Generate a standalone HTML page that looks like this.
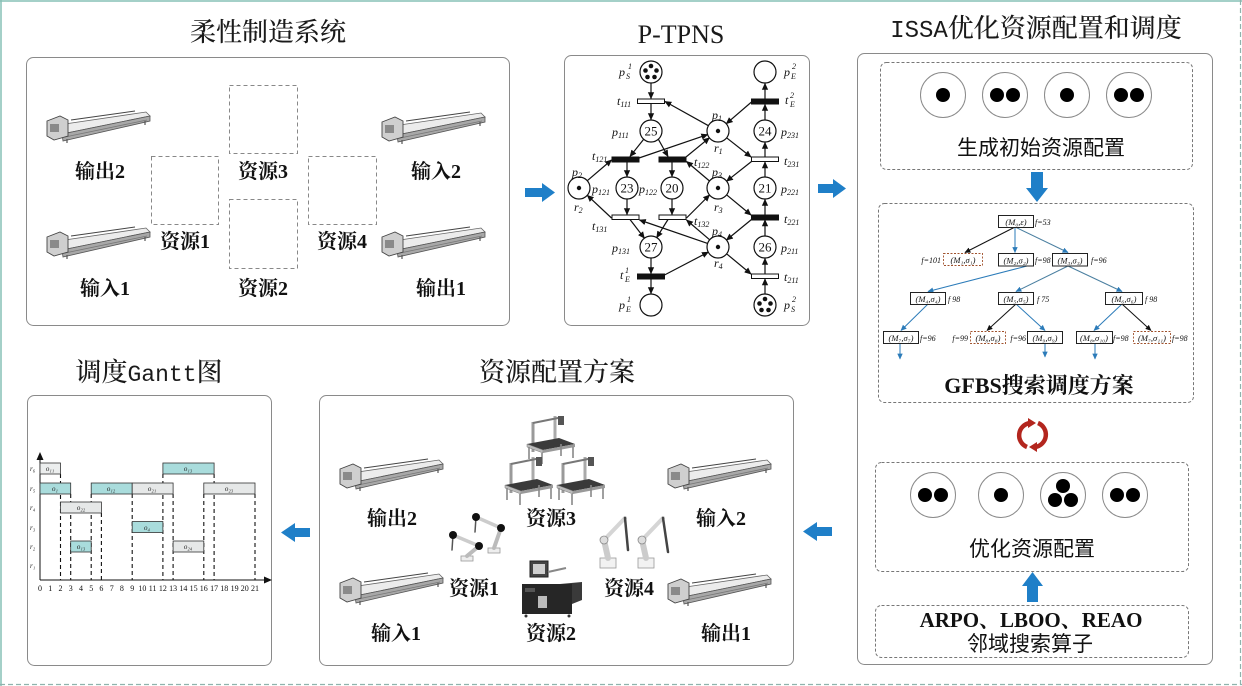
<!DOCTYPE html>
<html><head><meta charset="utf-8">
<style>
html,body{margin:0;padding:0;background:#fff;}
svg{display:block;}
.ttl{font-family:"Liberation Serif","Noto Serif CJK SC",serif;font-size:26px;fill:#1a1a1a;font-weight:500;}
.mono{font-family:"Liberation Mono",monospace;}
.lb{font-family:"Liberation Serif","Noto Serif CJK SC",serif;font-size:20px;font-weight:bold;fill:#111;}
.pn{font-family:"Liberation Serif",serif;font-style:italic;font-size:12px;fill:#111;}
.sb{font-size:8px;}
.num{font-family:"Liberation Serif",serif;font-size:13px;fill:#111;}
.hs{font-family:"Liberation Sans","Noto Sans CJK SC",sans-serif;font-size:21px;fill:#111;}
.tr{font-family:"Liberation Serif",serif;font-style:italic;font-size:8.5px;fill:#111;}
.tf{font-family:"Liberation Serif",serif;font-style:italic;font-size:8px;fill:#111;}
.gl{font-family:"Liberation Serif",serif;font-style:italic;font-size:7px;fill:#222;}
.gt{font-family:"Liberation Serif",serif;font-size:8px;fill:#111;}
</style></head><body>
<svg width="1242" height="686" viewBox="0 0 1242 686" xmlns="http://www.w3.org/2000/svg">
<defs>
<marker id="ah" viewBox="0 0 10 10" refX="9" refY="5" markerUnits="userSpaceOnUse" markerWidth="7" markerHeight="7" orient="auto"><path d="M0,0.5 L10,5 L0,9.5 z" fill="#111"/></marker>
<marker id="ab" viewBox="0 0 10 10" refX="9" refY="5" markerUnits="userSpaceOnUse" markerWidth="6" markerHeight="6" orient="auto"><path d="M0,0.5 L10,5 L0,9.5 z" fill="#2b7bb9"/></marker>
<marker id="ak" viewBox="0 0 10 10" refX="9" refY="5" markerUnits="userSpaceOnUse" markerWidth="6" markerHeight="6" orient="auto"><path d="M0,0.5 L10,5 L0,9.5 z" fill="#111"/></marker>
<g id="conv">
 <polygon points="11,14 99,1 103,5 15,23" fill="#ececec" stroke="#666" stroke-width="0.8"/>
 <polygon points="15,23 103,5 103,10 16,30" fill="#a8a8a8" stroke="#555" stroke-width="0.8"/>
 <line x1="24" y1="9" x2="88" y2="0" stroke="#444" stroke-width="1"/>
 <line x1="18" y1="26" x2="100" y2="9" stroke="#777" stroke-width="0.8"/>
 <polygon points="0,10 13,5 21,9 21,25 7,29 0,25" fill="#cfcfcf" stroke="#444" stroke-width="0.9"/>
 <rect x="3" y="13" width="9" height="8" fill="#8a8a8a"/>
 <line x1="20" y1="28" x2="20" y2="32" stroke="#555" stroke-width="1.2"/>
 <line x1="98" y1="10" x2="98" y2="14" stroke="#555" stroke-width="1.2"/>
</g>
<g id="gan">
 <line x1="8" y1="8" x2="8" y2="38" stroke="#9a9a9a" stroke-width="3"/>
 <line x1="30" y1="2" x2="30" y2="28" stroke="#aaa" stroke-width="3"/>
 <line x1="8" y1="9" x2="38" y2="3" stroke="#777" stroke-width="2"/>
 <rect x="33" y="2" width="6" height="9" fill="#555"/>
 <polygon points="2,30 34,24 50,30 18,36" fill="#3a3a3a"/>
 <polygon points="2,30 18,36 18,39 2,33" fill="#bbb" stroke="#777" stroke-width="0.5"/>
 <polygon points="18,36 50,30 50,33 18,39" fill="#999"/>
 <line x1="4" y1="33" x2="4" y2="45" stroke="#888" stroke-width="1.6"/>
 <line x1="17" y1="39" x2="17" y2="50" stroke="#888" stroke-width="1.6"/>
 <line x1="48" y1="33" x2="48" y2="44" stroke="#888" stroke-width="1.6"/>
 <line x1="36" y1="30" x2="36" y2="42" stroke="#888" stroke-width="1.6"/>
</g>
</defs>

<!-- outer frame -->
<line x1="0" y1="1" x2="1242" y2="1" stroke="#86c0b6" stroke-width="1.5"/>
<line x1="1" y1="0" x2="1" y2="686" stroke="#86c0b6" stroke-width="1.5"/>
<line x1="0" y1="684.5" x2="1242" y2="684.5" stroke="#8fb3ad" stroke-width="1.2" stroke-dasharray="5 3"/>
<line x1="1240.5" y1="0" x2="1240.5" y2="686" stroke="#8fb3ad" stroke-width="1.2" stroke-dasharray="5 3"/>

<!-- titles -->
<text class="ttl" x="268" y="41" text-anchor="middle">柔性制造系统</text>
<text class="ttl" x="681" y="43" text-anchor="middle">P-TPNS</text>
<text class="ttl" x="1036" y="37" text-anchor="middle"><tspan class="mono" style="font-size:24px">ISSA</tspan>优化资源配置和调度</text>
<text class="ttl" x="149" y="381" text-anchor="middle">调度<tspan class="mono" style="font-size:23px">Gantt</tspan>图</text>
<text class="ttl" x="557" y="381" text-anchor="middle">资源配置方案</text>

<!-- panels -->
<rect x="26.5" y="57.5" width="483" height="268" rx="7" fill="#fff" stroke="#8a8a8a" stroke-width="1"/>
<rect x="564.5" y="55.5" width="245" height="270" rx="7" fill="#fff" stroke="#8a8a8a" stroke-width="1"/>
<rect x="857.5" y="53.5" width="355" height="611" rx="7" fill="#fff" stroke="#8a8a8a" stroke-width="1"/>
<rect x="27.5" y="395.5" width="244" height="270" rx="7" fill="#fff" stroke="#8a8a8a" stroke-width="1"/>
<rect x="319.5" y="395.5" width="474" height="270" rx="7" fill="#fff" stroke="#8a8a8a" stroke-width="1"/>

<!-- blue arrows -->
<g fill="#1f7fc8">
 <path d="M525,188 H542 V183 L555,192.5 L542,202 V197 H525 Z"/>
 <path d="M818,184 H833 V179 L846,188.5 L833,198 V193 H818 Z"/>
 <path d="M832,527 H817 V522 L803,531.5 L817,541 V536 H832 Z"/>
 <path d="M310,528 H295 V523 L281,532.5 L295,542 V537 H310 Z"/>
 <path d="M1031,172 H1043 V188 H1048 L1037,202 L1026,188 H1031 Z"/>
 <path d="M1027,602 H1038 V586 H1043 L1032.5,572 L1022,586 H1027 Z"/>
</g>

<!-- ===== top-left panel ===== -->
<use href="#conv" x="47" y="111"/>
<use href="#conv" x="47" y="227"/>
<use href="#conv" x="382" y="112"/>
<use href="#conv" x="382" y="227"/>
<g fill="none" stroke="#888" stroke-width="1" stroke-dasharray="4 3">
 <rect x="229.5" y="85.5" width="68" height="68"/>
 <rect x="151.5" y="156.5" width="67" height="68"/>
 <rect x="229.5" y="199.5" width="68" height="69"/>
 <rect x="308.5" y="156.5" width="68" height="68"/>
</g>
<g class="lb" text-anchor="middle">
 <text x="100" y="178">输出2</text>
 <text x="105" y="295">输入1</text>
 <text x="436" y="178">输入2</text>
 <text x="441" y="295">输出1</text>
 <text x="263" y="178">资源3</text>
 <text x="185" y="248">资源1</text>
 <text x="263" y="295">资源2</text>
 <text x="342" y="248">资源4</text>
</g>

<!-- ===== Petri net ===== -->
<g stroke="#111" stroke-width="1.2" marker-end="url(#ah)">
 <line x1="651" y1="83" x2="651" y2="98.5"/>
 <line x1="651" y1="103.5" x2="651" y2="119.5"/>
 <line x1="708.4" y1="125.7" x2="665" y2="101.5"/>
 <line x1="751.5" y1="102" x2="726.3" y2="123.7"/>
 <line x1="765" y1="99" x2="765" y2="83.5"/>
 <line x1="765" y1="120" x2="765" y2="104.5"/>
 <line x1="765" y1="157" x2="765" y2="142.5"/>
 <line x1="765" y1="177" x2="765" y2="162"/>
 <line x1="765" y1="215" x2="765" y2="199.5"/>
 <line x1="765" y1="236" x2="765" y2="220"/>
 <line x1="765" y1="274" x2="765" y2="258.5"/>
 <line x1="765" y1="294" x2="765" y2="279"/>
 <line x1="643.7" y1="139.2" x2="630" y2="156.5"/>
 <line x1="658.3" y1="139.2" x2="668" y2="156.5"/>
 <line x1="639" y1="158" x2="707.6" y2="134.6"/>
 <line x1="686" y1="157" x2="709.4" y2="137.8"/>
 <line x1="587.3" y1="180.7" x2="611.5" y2="160"/>
 <line x1="627" y1="161.5" x2="627" y2="176.5"/>
 <line x1="672" y1="161.5" x2="672" y2="176.5"/>
 <line x1="709.5" y1="181" x2="686.5" y2="161.5"/>
 <line x1="726.6" y1="137.8" x2="751" y2="157"/>
 <line x1="751.5" y1="161.5" x2="726.6" y2="181.2"/>
 <line x1="627" y1="199" x2="627" y2="214.5"/>
 <line x1="672" y1="199" x2="672" y2="214.5"/>
 <line x1="611.5" y1="218" x2="587.3" y2="195.3"/>
 <line x1="686.5" y1="218" x2="709.5" y2="195"/>
 <line x1="707.6" y1="243.4" x2="639.5" y2="220"/>
 <line x1="709.7" y1="239.8" x2="686.5" y2="220"/>
 <line x1="630" y1="219.5" x2="644.4" y2="238.2"/>
 <line x1="668" y1="219.5" x2="656.7" y2="237.6"/>
 <line x1="726.6" y1="194.8" x2="751" y2="215"/>
 <line x1="751.5" y1="219.5" x2="726.5" y2="240"/>
 <line x1="651" y1="258" x2="651" y2="273.5"/>
 <line x1="651" y1="278.5" x2="651" y2="293.5"/>
 <line x1="664.5" y1="275" x2="708.3" y2="252.1"/>
 <line x1="726.6" y1="253.8" x2="751" y2="274"/>
</g>
<g fill="#fff" stroke="#111" stroke-width="1.2">
 <circle cx="651" cy="72" r="11"/>
 <circle cx="651" cy="131" r="11"/>
 <circle cx="718" cy="131" r="11"/>
 <circle cx="765" cy="72" r="11"/>
 <circle cx="765" cy="131" r="11"/>
 <circle cx="579" cy="188" r="11"/>
 <circle cx="627" cy="188" r="11"/>
 <circle cx="672" cy="188" r="11"/>
 <circle cx="718" cy="188" r="11"/>
 <circle cx="765" cy="188" r="11"/>
 <circle cx="651" cy="247" r="11"/>
 <circle cx="718" cy="247" r="11"/>
 <circle cx="765" cy="247" r="11"/>
 <circle cx="651" cy="305" r="11"/>
 <circle cx="765" cy="305" r="11"/>
</g>
<g fill="#111">
 <circle cx="718" cy="131" r="2.2"/>
 <circle cx="579" cy="188" r="2.2"/>
 <circle cx="718" cy="188" r="2.2"/>
 <circle cx="718" cy="247" r="2.2"/>
 <circle cx="651" cy="66" r="2.3"/><circle cx="645.5" cy="70.5" r="2.3"/><circle cx="656.5" cy="70.5" r="2.3"/><circle cx="647.5" cy="77" r="2.3"/><circle cx="654.5" cy="77" r="2.3"/>
 <circle cx="765" cy="299" r="2.3"/><circle cx="759.5" cy="303.5" r="2.3"/><circle cx="770.5" cy="303.5" r="2.3"/><circle cx="761.5" cy="310" r="2.3"/><circle cx="768.5" cy="310" r="2.3"/>
</g>
<g class="num" text-anchor="middle">
 <text x="651" y="135.5">25</text>
 <text x="765" y="135.5">24</text>
 <text x="627" y="192.5">23</text>
 <text x="672" y="192.5">20</text>
 <text x="765" y="192.5">21</text>
 <text x="651" y="251.5">27</text>
 <text x="765" y="251.5">26</text>
</g>
<g stroke="#111" stroke-width="1">
 <rect x="637.5" y="99" width="27" height="4.5" fill="#fff"/>
 <rect x="751.5" y="99" width="27" height="5" fill="#111"/>
 <rect x="612" y="157" width="27" height="5" fill="#111"/>
 <rect x="659" y="157" width="27" height="5" fill="#111"/>
 <rect x="751.5" y="157" width="27" height="4.5" fill="#fff"/>
 <rect x="612" y="215" width="27" height="4.5" fill="#fff"/>
 <rect x="659" y="215" width="27" height="4.5" fill="#fff"/>
 <rect x="751.5" y="215" width="27" height="5" fill="#111"/>
 <rect x="637.5" y="274" width="27" height="5" fill="#111"/>
 <rect x="751.5" y="274" width="27" height="4.5" fill="#fff"/>
</g>
<g class="pn">
 <text x="619" y="76">p</text><text class="sb" x="626" y="79">S</text><text class="sb" x="628" y="69">1</text>
 <text x="617" y="105">t<tspan class="sb" dy="2">111</tspan></text>
 <text x="712" y="119">p<tspan class="sb" dy="2">1</tspan></text>
 <text x="785" y="104">t</text><text class="sb" x="790" y="107">E</text><text class="sb" x="790" y="98">2</text>
 <text x="784" y="76">p</text><text class="sb" x="791" y="79">E</text><text class="sb" x="792" y="69">2</text>
 <text x="612" y="136">p<tspan class="sb" dy="2">111</tspan></text>
 <text x="714" y="152">r<tspan class="sb" dy="2">1</tspan></text>
 <text x="781" y="136">p<tspan class="sb" dy="2">231</tspan></text>
 <text x="592" y="160">t<tspan class="sb" dy="2">121</tspan></text>
 <text x="694" y="166">t<tspan class="sb" dy="2">122</tspan></text>
 <text x="784" y="165">t<tspan class="sb" dy="2">231</tspan></text>
 <text x="572" y="176">p<tspan class="sb" dy="2">2</tspan></text>
 <text x="712" y="176">p<tspan class="sb" dy="2">3</tspan></text>
 <text x="592" y="193">p<tspan class="sb" dy="2">121</tspan></text>
 <text x="639" y="193">p<tspan class="sb" dy="2">122</tspan></text>
 <text x="781" y="193">p<tspan class="sb" dy="2">221</tspan></text>
 <text x="574" y="211">r<tspan class="sb" dy="2">2</tspan></text>
 <text x="714" y="211">r<tspan class="sb" dy="2">3</tspan></text>
 <text x="592" y="230">t<tspan class="sb" dy="2">131</tspan></text>
 <text x="694" y="225">t<tspan class="sb" dy="2">132</tspan></text>
 <text x="784" y="223">t<tspan class="sb" dy="2">221</tspan></text>
 <text x="712" y="235">p<tspan class="sb" dy="2">4</tspan></text>
 <text x="612" y="252">p<tspan class="sb" dy="2">131</tspan></text>
 <text x="781" y="252">p<tspan class="sb" dy="2">211</tspan></text>
 <text x="714" y="267">r<tspan class="sb" dy="2">4</tspan></text>
 <text x="620" y="279">t</text><text class="sb" x="625" y="282">E</text><text class="sb" x="625" y="273">1</text>
 <text x="784" y="281">t<tspan class="sb" dy="2">211</tspan></text>
 <text x="619" y="309">p</text><text class="sb" x="626" y="312">E</text><text class="sb" x="627" y="302">1</text>
 <text x="784" y="309">p</text><text class="sb" x="791" y="312">S</text><text class="sb" x="792" y="302">2</text>
</g>

<!-- ===== Right panel ===== -->
<g fill="none" stroke="#777" stroke-width="1" stroke-dasharray="3 2">
 <rect x="880.5" y="62.5" width="312" height="107" rx="6"/>
 <rect x="878.5" y="203.5" width="315" height="199" rx="6"/>
 <rect x="875.5" y="462.5" width="313" height="109" rx="6"/>
 <rect x="875.5" y="605.5" width="313" height="52" rx="6"/>
</g>
<g fill="#fff" stroke="#8a8a8a" stroke-width="1">
 <circle cx="943" cy="95" r="22.5"/><circle cx="1005" cy="95" r="22.5"/><circle cx="1067" cy="95" r="22.5"/><circle cx="1129" cy="95" r="22.5"/>
 <circle cx="933" cy="495" r="22.5"/><circle cx="1001" cy="495" r="22.5"/><circle cx="1063" cy="495" r="22.5"/><circle cx="1125" cy="495" r="22.5"/>
</g>
<g fill="#000">
 <circle cx="943" cy="95" r="7"/>
 <circle cx="997" cy="95" r="7"/><circle cx="1013" cy="95" r="7"/>
 <circle cx="1067" cy="95" r="7"/>
 <circle cx="1121" cy="95" r="7"/><circle cx="1137" cy="95" r="7"/>
 <circle cx="925" cy="495" r="7"/><circle cx="941" cy="495" r="7"/>
 <circle cx="1001" cy="495" r="7"/>
 <circle cx="1063" cy="486" r="7"/><circle cx="1055" cy="500" r="7"/><circle cx="1071" cy="500" r="7"/>
 <circle cx="1117" cy="495" r="7"/><circle cx="1133" cy="495" r="7"/>
</g>
<text class="hs" x="1041" y="155" text-anchor="middle">生成初始资源配置</text>
<text class="hs" x="1032" y="556" text-anchor="middle">优化资源配置</text>
<text class="lb" x="1031" y="627" text-anchor="middle" style="font-size:21px">ARPO、LBOO、REAO</text>
<text class="hs" x="1030" y="651" text-anchor="middle">邻域搜索算子</text>
<text class="lb" x="1039" y="393" text-anchor="middle" style="font-size:22px">GFBS搜索调度方案</text>

<!-- tree edges -->
<g stroke-width="1" fill="none">
 <line x1="1015" y1="227" x2="965" y2="252.5" stroke="#111" marker-end="url(#ak)"/>
 <line x1="1015" y1="227" x2="1015" y2="252.5" stroke="#2b7bb9" marker-end="url(#ab)"/>
 <line x1="1015" y1="227" x2="1068" y2="252.5" stroke="#4a7fa0" marker-end="url(#ab)"/>
 <line x1="1027" y1="266" x2="928" y2="291.5" stroke="#2b7bb9" marker-end="url(#ab)"/>
 <line x1="1068" y1="266" x2="1016" y2="291.5" stroke="#4a7fa0" marker-end="url(#ab)"/>
 <line x1="1068" y1="266" x2="1122" y2="291.5" stroke="#4a7fa0" marker-end="url(#ab)"/>
 <line x1="928" y1="304" x2="901" y2="330.5" stroke="#2b7bb9" marker-end="url(#ab)"/>
 <line x1="1016" y1="304" x2="987" y2="330.5" stroke="#111" marker-end="url(#ak)"/>
 <line x1="1016" y1="304" x2="1045" y2="330.5" stroke="#2b7bb9" marker-end="url(#ab)"/>
 <line x1="1122" y1="304" x2="1094" y2="330.5" stroke="#2b7bb9" marker-end="url(#ab)"/>
 <line x1="1122" y1="304" x2="1151" y2="330.5" stroke="#111" marker-end="url(#ak)"/>
 <line x1="900" y1="343" x2="900" y2="359" stroke="#2b7bb9" marker-end="url(#ab)"/>
 <line x1="1045" y1="343" x2="1045" y2="357" stroke="#2b7bb9" marker-end="url(#ab)"/>
 <line x1="1095" y1="343" x2="1095" y2="359" stroke="#2b7bb9" marker-end="url(#ab)"/>
</g>
<g fill="#fff" stroke="#222" stroke-width="1">
 <rect x="998.5" y="215.5" width="35" height="12"/>
 <rect x="998.5" y="253.5" width="35" height="12.5"/>
 <rect x="1052.5" y="253.5" width="35" height="12.5"/>
 <rect x="910.5" y="292.5" width="35" height="12"/>
 <rect x="998.5" y="292.5" width="35" height="12"/>
 <rect x="1105.5" y="292.5" width="37" height="12"/>
 <rect x="883.5" y="331.5" width="35" height="12"/>
 <rect x="1027.5" y="331.5" width="35" height="12"/>
 <rect x="1076.5" y="331.5" width="36" height="12"/>
</g>
<g fill="#fff" stroke="#a0522d" stroke-width="0.9" stroke-dasharray="2 1.5">
 <rect x="943.5" y="253.5" width="39" height="12"/>
 <rect x="970.5" y="331.5" width="35" height="12"/>
 <rect x="1133.5" y="331.5" width="37" height="12"/>
</g>
<g class="tr" text-anchor="middle">
 <text x="1016" y="225">(M₀,ε)</text>
 <text x="963" y="263">(M₁,σ₁)</text>
 <text x="1016" y="263.5">(M₂,σ₂)</text>
 <text x="1070" y="263.5">(M₃,σ₃)</text>
 <text x="928" y="302">(M₄,σ₄)</text>
 <text x="1016" y="302">(M₅,σ₅)</text>
 <text x="1124" y="302">(M₆,σ₆)</text>
 <text x="901" y="341">(M₇,σ₇)</text>
 <text x="988" y="341">(M₈,σ₈)</text>
 <text x="1045" y="341">(M₉,σ₉)</text>
 <text x="1094" y="341">(M₈,σ₁₀)</text>
 <text x="1152" y="341">(M₇,σ₁₁)</text>
</g>
<g class="tf">
 <text x="1035" y="225">f=53</text>
 <text x="941" y="263" text-anchor="end">f=101</text>
 <text x="1035" y="263">f=98</text>
 <text x="1091" y="263">f=96</text>
 <text x="948" y="302">f  98</text>
 <text x="1037" y="302">f  75</text>
 <text x="1145" y="302">f  98</text>
 <text x="920" y="341">f=96</text>
 <text x="968" y="341" text-anchor="end">f=99</text>
 <text x="1026" y="341" text-anchor="end">f=96</text>
 <text x="1113" y="341">f=98</text>
 <text x="1172" y="341">f=98</text>
</g>

<!-- red cycle -->
<g fill="none" stroke="#b3261e" stroke-width="4.5" stroke-linecap="butt">
 <path d="M1030,423 A12.5,12.5 0 0 0 1027,447"/>
 <path d="M1035,447 A12.5,12.5 0 0 0 1038,423"/>
</g>
<g fill="#b3261e">
 <path d="M1028,418 L1036,423 L1028,428 Z"/>
 <path d="M1037,442 L1029,447 L1037,452 Z"/>
</g>

<!-- ===== Gantt ===== -->
<g stroke="#111" stroke-width="1" fill="none">
 <line x1="40" y1="580" x2="40" y2="458"/>
 <line x1="40" y1="580" x2="266" y2="580"/>
</g>
<path d="M40,452 L36.5,460 L43.5,460 Z" fill="#111"/>
<path d="M272,580 L264,576.5 L264,583.5 Z" fill="#111"/>
<g stroke="#111" stroke-width="1.1" stroke-dasharray="4 3">
 <line x1="60.5" y1="474" x2="60.5" y2="580"/>
 <line x1="70.7" y1="494" x2="70.7" y2="580"/>
 <line x1="91.2" y1="494" x2="91.2" y2="580"/>
 <line x1="101.4" y1="513" x2="101.4" y2="580"/>
 <line x1="132.2" y1="494" x2="132.2" y2="580"/>
 <line x1="162.9" y1="474" x2="162.9" y2="580"/>
 <line x1="173.1" y1="494" x2="173.1" y2="580"/>
 <line x1="203.8" y1="494" x2="203.8" y2="580"/>
 <line x1="214.1" y1="474" x2="214.1" y2="580"/>
 <line x1="255" y1="494" x2="255" y2="580"/>
</g>
<g stroke="#333" stroke-width="0.8">
 <rect x="40" y="463" width="20.5" height="11" fill="#eceeee"/>
 <rect x="162.9" y="463" width="51.2" height="11" fill="#a9dcdc"/>
 <rect x="40" y="483" width="30.7" height="11" fill="#a9dcdc"/>
 <rect x="91.2" y="483" width="41" height="11" fill="#a9dcdc"/>
 <rect x="132.2" y="483" width="40.9" height="11" fill="#e6e8e8"/>
 <rect x="203.8" y="483" width="51.2" height="11" fill="#e6e8e8"/>
 <rect x="60.5" y="502" width="40.9" height="11" fill="#e6e8e8"/>
 <rect x="132.2" y="521.5" width="30.7" height="11" fill="#a9dcdc"/>
 <rect x="70.7" y="541" width="20.5" height="11" fill="#a9dcdc"/>
 <rect x="173.1" y="541" width="30.7" height="11" fill="#e6e8e8"/>
</g>
<g class="gl" text-anchor="middle">
 <text x="50" y="471">o₁₁</text>
 <text x="188" y="471">o₁₃</text>
 <text x="55" y="491">o₁</text>
 <text x="111" y="491">o₁₂</text>
 <text x="152" y="491">o₂₁</text>
 <text x="229" y="491">o₂₃</text>
 <text x="81" y="510">o₂₂</text>
 <text x="147" y="530">o₄</text>
 <text x="81" y="549">o₁₃</text>
 <text x="188" y="549">o₂₄</text>
</g>
<g class="gl">
 <text x="30" y="471">r₆</text>
 <text x="30" y="491">r₅</text>
 <text x="30" y="510">r₄</text>
 <text x="30" y="530">r₃</text>
 <text x="30" y="549">r₂</text>
 <text x="30" y="568">r₁</text>
</g>
<g class="gt" text-anchor="middle">
 <text x="40" y="591">0</text><text x="50.2" y="591">1</text><text x="60.5" y="591">2</text><text x="70.7" y="591">3</text><text x="81" y="591">4</text><text x="91.2" y="591">5</text><text x="101.4" y="591">6</text><text x="111.7" y="591">7</text><text x="121.9" y="591">8</text><text x="132.2" y="591">9</text><text x="142.4" y="591">10</text><text x="152.6" y="591">11</text><text x="162.9" y="591">12</text><text x="173.1" y="591">13</text><text x="183.4" y="591">14</text><text x="193.6" y="591">15</text><text x="203.8" y="591">16</text><text x="214.1" y="591">17</text><text x="224.3" y="591">18</text><text x="234.6" y="591">19</text><text x="244.8" y="591">20</text><text x="255" y="591">21</text>
</g>

<!-- ===== bottom middle panel ===== -->
<use href="#conv" x="340" y="459"/>
<use href="#conv" x="340" y="573"/>
<use href="#conv" x="668" y="459"/>
<use href="#conv" x="668" y="574"/>
<use href="#gan" x="525" y="414"/>
<use href="#gan" x="503" y="455"/>
<use href="#gan" x="555" y="455"/>
<!-- robots resource 1 -->
<g stroke-linecap="round">
 <rect x="461" y="556" width="12" height="5" fill="#eee" stroke="#999" stroke-width="0.8"/>
 <line x1="467" y1="556" x2="479" y2="546" stroke="#bbb" stroke-width="4"/>
 <line x1="479" y1="546" x2="453" y2="535" stroke="#ccc" stroke-width="3.5"/>
 <line x1="453" y1="535" x2="452" y2="550" stroke="#555" stroke-width="1.5"/>
 <circle cx="479" cy="546" r="4" fill="#111"/>
 <circle cx="453" cy="535" r="4" fill="#111"/>
 <rect x="488" y="548" width="12" height="5" fill="#eee" stroke="#999" stroke-width="0.8"/>
 <line x1="494" y1="548" x2="501" y2="528" stroke="#bbb" stroke-width="4"/>
 <line x1="501" y1="528" x2="476" y2="517" stroke="#ccc" stroke-width="3.5"/>
 <line x1="476" y1="517" x2="475" y2="532" stroke="#555" stroke-width="1.5"/>
 <circle cx="501" cy="528" r="4" fill="#111"/>
 <circle cx="476" cy="517" r="4" fill="#111"/>
</g>
<!-- robots resource 4 -->
<g stroke-linecap="round">
 <rect x="600" y="558" width="16" height="10" fill="#f2f2f2" stroke="#999" stroke-width="0.8"/>
 <line x1="608" y1="558" x2="604" y2="540" stroke="#ccc" stroke-width="6"/>
 <line x1="604" y1="540" x2="625" y2="518" stroke="#d5d5d5" stroke-width="4"/>
 <line x1="625" y1="518" x2="628" y2="550" stroke="#444" stroke-width="2.5"/>
 <circle cx="604" cy="540" r="4" fill="#ddd" stroke="#888" stroke-width="0.8"/>
 <rect x="638" y="558" width="16" height="10" fill="#f2f2f2" stroke="#999" stroke-width="0.8"/>
 <line x1="646" y1="558" x2="642" y2="540" stroke="#ccc" stroke-width="6"/>
 <line x1="642" y1="540" x2="663" y2="518" stroke="#d5d5d5" stroke-width="4"/>
 <line x1="663" y1="518" x2="668" y2="552" stroke="#444" stroke-width="2.5"/>
 <circle cx="642" cy="540" r="4" fill="#ddd" stroke="#888" stroke-width="0.8"/>
</g>
<!-- resource 2 machine -->
<g>
 <rect x="530" y="561" width="18" height="16" fill="#444" stroke="#222"/>
 <rect x="533" y="564" width="12" height="10" fill="#cfcfcf"/>
 <line x1="548" y1="572" x2="566" y2="568" stroke="#888" stroke-width="2"/>
 <rect x="522" y="584" width="50" height="30" fill="#262626"/>
 <polygon points="560,584 582,582 582,600 572,604 572,584" fill="#3a3a3a"/>
 <rect x="538" y="596" width="9" height="12" fill="#bbb"/>
 <rect x="525" y="588" width="10" height="4" fill="#555"/>
 <circle cx="526" cy="616" r="1.5" fill="#333"/><circle cx="569" cy="616" r="1.5" fill="#333"/>
</g>
<g class="lb" text-anchor="middle">
 <text x="392" y="525">输出2</text>
 <text x="396" y="640">输入1</text>
 <text x="721" y="525">输入2</text>
 <text x="726" y="640">输出1</text>
 <text x="551" y="525">资源3</text>
 <text x="474" y="595">资源1</text>
 <text x="551" y="640">资源2</text>
 <text x="629" y="595">资源4</text>
</g>
</svg>
</body></html>
